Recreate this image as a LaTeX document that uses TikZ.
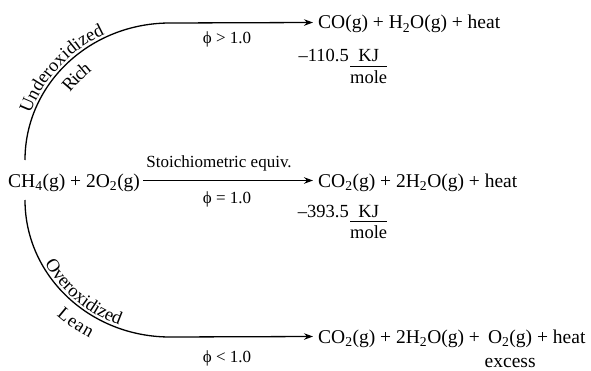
\documentclass[tikz,border=0pt]{standalone}
\usepackage{fontspec}
\setmainfont{Liberation Serif}
\usetikzlibrary{arrows.meta,decorations.text}
\begin{document}
\fontsize{18.5}{21}\selectfont
\begin{tikzpicture}[x=1pt,y=1pt,
  conn/.style={line width=1.3pt,-{Stealth[length=9pt,width=6.5pt]}},
  txt/.style={inner sep=0pt,font=\fontsize{17}{20}\selectfont},
  chem/.style={inner sep=0pt,anchor=base west,font=\fontsize{19.5}{22}\selectfont},
  en/.style={inner sep=0pt,font=\fontsize{18.5}{21}\selectfont},
  frac/.style={en,anchor=base west,xshift=1pt},
]
\useasboundingbox (0,0) rectangle (591,370);
% reactants and products
\node[chem] (R) at (8,183) {CH\textsubscript{4}(g) + 2O\textsubscript{2}(g)};
\node[chem] (P1) at (318,341) {CO(g) + H\textsubscript{2}O(g) + heat};
\node[chem] (P2) at (318,183) {CO\textsubscript{2}(g) + 2H\textsubscript{2}O(g) + heat};
\node[chem] (P3) at (318,27) {CO\textsubscript{2}(g) + 2H\textsubscript{2}O(g) +\ \,\begin{tabular}[t]{@{}c@{}}O\textsubscript{2}(g)\\[2pt]\makebox[0pt]{excess}\end{tabular} + heat};
% curve end points
\coordinate (s1) at (25,210);
\coordinate (k1) at (170,347);
\coordinate (s3) at (25,170);
\coordinate (k3) at (170,33);
% connectors
\draw[conn,
  postaction={decorate,decoration={text along path,text={Underoxidized},text align={left indent=46pt},raise=3pt}},
  postaction={decorate,decoration={text along path,text={Rich},text align={left indent=88pt},raise=-22pt}}]
  (s1) .. controls (25,286) and (90,347) .. (k1) -- ([xshift=-5pt,yshift=6.5pt]P1.base west);
\draw[conn,shorten <=3pt] ([yshift=6.5pt]R.base east) -- ([xshift=-5pt,yshift=6.5pt]P2.base west);
\draw[conn,
  postaction={decorate,decoration={text along path,text={Overoxidized},text align={left indent=68pt},raise=3pt}},
  postaction={decorate,decoration={text along path,text={Lean},text align={left indent=112pt},raise=-21pt}}]
  (s3) .. controls (25,94) and (90,33) .. (k3) -- ([xshift=-5pt,yshift=6.5pt]P3.base west);
% edge labels
\node[txt,anchor=base] (f1) at (227,326) {ϕ > 1.0};
\node[txt,anchor=base] (st) at (219,203) {Stoichiometric equiv.};
\node[txt,anchor=base] (f2) at (227,167) {ϕ = 1.0};
\node[txt,anchor=base] (f3) at (227,8) {ϕ < 1.0};
% heats
\node[en,anchor=base east] (e1) at (349,308) {–110.5};
\node[frac] (u1) at (e1.base east) {\begin{tabular}[t]{@{}c@{}}KJ\\[-2pt]\hline\rule{0pt}{17pt}mole\end{tabular}};
\node[en,anchor=base east] (e2) at (349,153) {–393.5};
\node[frac] (u2) at (e2.base east) {\begin{tabular}[t]{@{}c@{}}KJ\\[-2pt]\hline\rule{0pt}{17pt}mole\end{tabular}};
\end{tikzpicture}
\end{document}
